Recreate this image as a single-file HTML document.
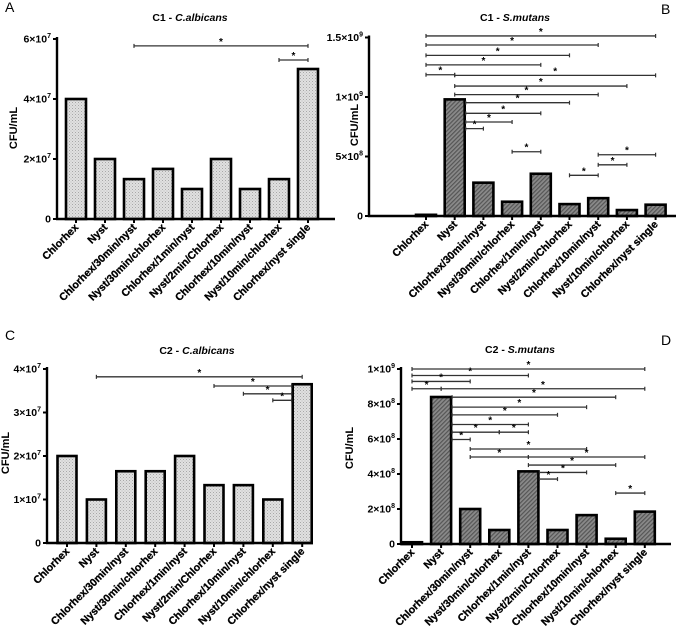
<!DOCTYPE html>
<html><head><meta charset="utf-8">
<style>
html,body{margin:0;padding:0;background:#fff;}
svg{display:block;font-family:"Liberation Sans",Arial,sans-serif;}
</style></head>
<body>
<svg id="fig" width="676" height="626" viewBox="0 0 676 626" xmlns="http://www.w3.org/2000/svg">
<defs>
<pattern id="pLight" width="3" height="3" patternUnits="userSpaceOnUse">
<rect width="3" height="3" fill="#e0e0e0"/><rect x="0" y="0" width="1" height="1" fill="#a8a8a8"/><rect x="1.5" y="1.5" width="1" height="1" fill="#bcbcbc"/>
</pattern>
<pattern id="pDark" width="3" height="3" patternUnits="userSpaceOnUse" patternTransform="rotate(45)">
<rect width="3" height="3" fill="#8a8a8a"/><rect width="1.2" height="3" fill="#555"/>
</pattern>
</defs>
</svg>
<script>
const categories = ["Chlorhex","Nyst","Chlorhex/30min/nyst","Nyst/30min/chlorhex","Chlorhex/1min/nyst","Nyst/2min/Chlorhex","Chlorhex/10min/nyst","Nyst/10min/chlorhex","Chlorhex/nyst single"];
const valuesA = [4.0e7,2.0e7,1.33e7,1.67e7,1.0e7,2.0e7,1.0e7,1.33e7,5.0e7];
const valuesB = [0.01e9,0.98e9,0.28e9,0.12e9,0.355e9,0.10e9,0.15e9,0.05e9,0.095e9];
const valuesC = [2.0e7,1.0e7,1.65e7,1.65e7,2.0e7,1.33e7,1.33e7,1.0e7,3.65e7];
const valuesD = [0.1e8,8.4e8,2.0e8,0.8e8,4.15e8,0.8e8,1.65e8,0.3e8,1.85e8];
const ticksA = [0,2e7,4e7,6e7];
const tickLabelsA = ["0","2×10^7","4×10^7","6×10^7"];
const ticksB = [0,5e8,1e9,1.5e9];
const tickLabelsB = ["0","5×10^8","1×10^9","1.5×10^9"];
const ticksC = [0,1e7,2e7,3e7,4e7];
const tickLabelsC = ["0","1×10^7","2×10^7","3×10^7","4×10^7"];
const ticksD = [0,2e8,4e8,6e8,8e8,1e9];
const tickLabelsD = ["0","2×10^8","4×10^8","6×10^8","8×10^8","1×10^9"];
// significance brackets: [from, to, level]
const sigA = [[2,8,5.77e7],[7,8,5.3e7]];
const sigB = [[0,8,1.513e9],[0,6,1.437e9],[0,5,1.35e9],[0,4,1.27e9],[0,1,1.187e9],[1,8,1.182e9],[1,7,1.092e9],[1,6,1.02e9],[1,5,0.952e9],[1,4,0.863e9],[1,3,0.79e9],[1,2,0.734e9],[3,4,0.54e9],[5,6,0.342e9],[6,7,0.43e9],[6,8,0.515e9]];
const sigC = [[1,8,3.82e7],[5,8,3.61e7],[6,8,3.43e7],[7,8,3.28e7]];
const sigD = [[0,8,10.0e8],[0,4,9.63e8],[0,2,9.29e8],[0,1,8.87e8],[1,8,8.87e8],[1,7,8.39e8],[1,6,7.82e8],[1,5,7.38e8],[1,4,6.83e8],[1,3,6.39e8],[3,4,6.39e8],[1,2,5.97e8],[2,6,5.43e8],[2,4,4.97e8],[4,8,4.97e8],[4,7,4.51e8],[4,6,4.09e8],[4,5,3.71e8],[7,8,2.91e8]];

const NS="http://www.w3.org/2000/svg";
const svg=document.getElementById('fig');
function mk(tag,attrs,parent){const e=document.createElementNS(NS,tag);for(const k in attrs)e.setAttribute(k,attrs[k]);(parent||svg).appendChild(e);return e;}

function panel(o){
  const g=mk('g',{});
  
  
  const y=v=>o.y0-(v/o.vmax)*(o.y0-o.ytop);
  const x=i=>o.x0c+i*o.step;
  const L=mk('text',{x:o.lx,y:o.ly,'font-size':14},g);L.textContent=o.id;
  
  
  const t=mk('text',{x:o.tx,y:o.ty,'font-size':10.5,'font-weight':'bold','text-anchor':'middle'},g);
  
  
  const t1=mk('tspan',{},t);t1.textContent=o.t1;
  const t2=mk('tspan',{'font-style':'italic'},t);t2.textContent=o.t2;
  const yl=mk('text',{transform:`translate(${o.ylx},${o.yly}) rotate(-90)`,'font-size':11,'font-weight':'bold','text-anchor':'middle'},g);
  yl.textContent='CFU/mL';
  
  
  o.vals.forEach((v,i)=>{
    const r=mk('rect',{x:x(i)-o.bw/2,y:y(v),width:o.bw,height:o.y0-y(v),fill:o.fill,stroke:'#000','stroke-width':2.6},g);
    
    
  });
  const ya=mk('line',{x1:o.ax,y1:o.ytop-2,x2:o.ax,y2:o.y0,stroke:'#000','stroke-width':2.4},g);
  
  
  const xa=mk('line',{x1:o.ax-1,y1:o.y0,x2:o.axEnd,y2:o.y0,stroke:'#000','stroke-width':2.4},g);
  
  
  o.ticks.forEach((v,i)=>{
    mk('line',{x1:o.ax-4,y1:y(v),x2:o.ax,y2:y(v),stroke:'#000','stroke-width':2},g);
    const tl=mk('text',{x:o.ax-6,y:y(v)+3.5,'font-size':10.5,'font-weight':'bold','text-anchor':'end'},g);
    
    
    const parts=o.tickLabels[i].split('^');
    const a=mk('tspan',{},tl);a.textContent=parts[0];
    if(parts[1]){const b=mk('tspan',{'font-size':7,dy:-4.5},tl);b.textContent=parts[1];}
  });
  categories.forEach((c,i)=>{
    mk('line',{x1:x(i),y1:o.y0,x2:x(i),y2:o.y0+4,stroke:'#000','stroke-width':2},g);
    const tl=mk('text',{transform:`translate(${x(i)+3},${o.y0+9}) rotate(-45)`,'font-size':10.6,'font-weight':'bold','text-anchor':'end','stroke':'#000','stroke-width':0.3},g);
    tl.textContent=c;
    
    
  });
  o.sig.forEach(s=>{
    const [a,b,lv]=s, yy=y(lv);
    let xa1=x(a), xb=x(b);
    if(o.vals[a]>lv) xa1=x(a)+o.bw/2+1;
    if(o.vals[b]>lv) xb=x(b)-o.bw/2-1;
    const bg=mk('g',{},g);
    
    
    mk('line',{x1:xa1,y1:yy,x2:xb,y2:yy,stroke:'#333','stroke-width':1.3},bg);
    mk('line',{x1:xa1,y1:yy-2,x2:xa1,y2:yy+2,stroke:'#333','stroke-width':1.2},bg);
    mk('line',{x1:xb,y1:yy-2,x2:xb,y2:yy+2,stroke:'#333','stroke-width':1.2},bg);
    const st=mk('text',{x:(xa1+xb)/2,y:yy-1,'font-size':10,'font-weight':'bold','text-anchor':'middle'},bg);
    st.textContent='*';
  });
}
panel({id:'A',vals:valuesA,ticks:ticksA,tickLabels:tickLabelsA,sig:sigA,vmax:6e7,y0:219,ytop:39,ax:57,axEnd:335,x0c:76,step:29,bw:20,fill:'url(#pLight)',t1:'C1 - ',t2:'C.albicans',tx:190,ty:21,lx:5,ly:12,ylx:17,yly:128});
panel({id:'B',vals:valuesB,ticks:ticksB,tickLabels:tickLabelsB,sig:sigB,vmax:1.5e9,y0:216,ytop:37.5,ax:369,axEnd:676,x0c:426,step:28.7,bw:20,fill:'url(#pDark)',t1:'C1 -  ',t2:'S.mutans',tx:515,ty:21,lx:661,ly:14,ylx:358,yly:125});
panel({id:'C',vals:valuesC,ticks:ticksC,tickLabels:tickLabelsC,sig:sigC,vmax:4e7,y0:543,ytop:369,ax:47,axEnd:313,x0c:67,step:29.4,bw:19,fill:'url(#pLight)',t1:'C2 - ',t2:'C.albicans',tx:197,ty:354,lx:5,ly:340,ylx:9,yly:453});
panel({id:'D',vals:valuesD,ticks:ticksD,tickLabels:tickLabelsD,sig:sigD,vmax:1e9,y0:544,ytop:369,ax:401,axEnd:671,x0c:412,step:29.1,bw:20,fill:'url(#pDark)',t1:'C2 - ',t2:'S.mutans',tx:520,ty:353,lx:661,ly:345,ylx:353,yly:448});
</script>
</body></html>
